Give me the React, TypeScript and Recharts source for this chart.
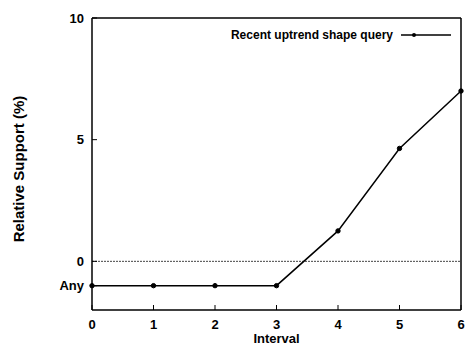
import React from "react";
import {
  LineChart,
  Line,
  XAxis,
  YAxis,
  ReferenceLine,
  Legend,
  Label,
} from "recharts";

// intervals and relative support values ("Any" is drawn at -1)
const intervals = [0, 1, 2, 3, 4, 5, 6];
const support = [-1, -1, -1, -1, 1.25, 4.64, 7.0];
const xTicks = [0, 1, 2, 3, 4, 5, 6];
const yTicks = [-1, 0, 5, 10];
const seriesName = "Recent uptrend shape query";

const data = intervals.map((x, i) => ({ x, y: support[i] }));

const FONT = "'Liberation Sans', Arial, Helvetica, sans-serif";

const yLabel = (v: number) => (v === -1 ? "Any" : String(v));

const LegendBox = (props: any) => {
  const item = props.payload && props.payload[0];
  return (
    <div
      style={{
        display: "flex",
        alignItems: "center",
        fontFamily: FONT,
        fontSize: 12,
        fontWeight: "bold",
        color: "#000",
        whiteSpace: "nowrap",
      }}
    >
      <span>{item ? item.value : seriesName}</span>
      <svg width={50} height={10} style={{ marginLeft: 8 }}>
        <line x1={0} y1={5} x2={50} y2={5} stroke="#000" strokeWidth={1.5} />
        <circle cx={13} cy={5} r={2} fill="#000" />
      </svg>
    </div>
  );
};

const App: React.FC = () => {
  return (
    <div style={{ position: "absolute", left: 0, top: 0, background: "#fff" }}>
      <LineChart
        width={467}
        height={345}
        data={data}
        margin={{ top: 17, right: 5, bottom: 0, left: 0 }}
      >
        <XAxis
          dataKey="x"
          type="number"
          domain={[0, 6]}
          ticks={xTicks}
          height={35}
          axisLine={{ stroke: "#000", strokeWidth: 1.5 }}
          tickLine={{ stroke: "#000", strokeWidth: 1 }}
          tickSize={-5}
          tickMargin={15}
          tick={{ fill: "#000", fontFamily: FONT, fontSize: 13, fontWeight: "bold" }}
        >
          <Label
            value="Interval"
            position="insideBottom"
            offset={2}
            style={{ fill: "#000", fontFamily: FONT, fontSize: 13, fontWeight: "bold" }}
          />
        </XAxis>
        <XAxis
          xAxisId="top"
          dataKey="x"
          type="number"
          orientation="top"
          domain={[0, 6]}
          ticks={xTicks}
          height={1}
          axisLine={{ stroke: "#000", strokeWidth: 1.5 }}
          tickLine={{ stroke: "#000", strokeWidth: 1 }}
          tickSize={-5}
          tick={false}
        />
        <YAxis
          type="number"
          domain={[-2, 10]}
          ticks={yTicks}
          width={92}
          tickFormatter={yLabel}
          axisLine={{ stroke: "#000", strokeWidth: 1.5 }}
          tickLine={{ stroke: "#000", strokeWidth: 1 }}
          tickSize={-5}
          tickMargin={13}
          tick={{ fill: "#000", fontFamily: FONT, fontSize: 13, fontWeight: "bold" }}
        >
          <Label
            value="Relative Support (%)"
            angle={-90}
            position="center"
            dx={-27}
            dy={5}
            style={{ fill: "#000", fontFamily: FONT, fontSize: 15, fontWeight: "bold", textAnchor: "middle" }}
          />
        </YAxis>
        <YAxis
          yAxisId="right"
          orientation="right"
          type="number"
          domain={[-2, 10]}
          ticks={yTicks}
          width={1}
          axisLine={{ stroke: "#000", strokeWidth: 1.5 }}
          tickLine={{ stroke: "#000", strokeWidth: 1 }}
          tickSize={-5}
          tick={false}
        />
        <ReferenceLine y={0} stroke="#444" strokeWidth={1} strokeDasharray="2 1" />
        <Legend
          verticalAlign="middle"
          align="center"
          layout="vertical"
          wrapperStyle={{ top: 28, right: 16, left: "auto", width: "auto" }}
          content={<LegendBox />}
        />
        <Line
          name={seriesName}
          dataKey="y"
          type="linear"
          stroke="#000"
          strokeWidth={1.5}
          dot={{ r: 2.2, fill: "#000", stroke: "#000", strokeWidth: 1 }}
          isAnimationActive={false}
        />
      </LineChart>
    </div>
  );
};

export default App;
